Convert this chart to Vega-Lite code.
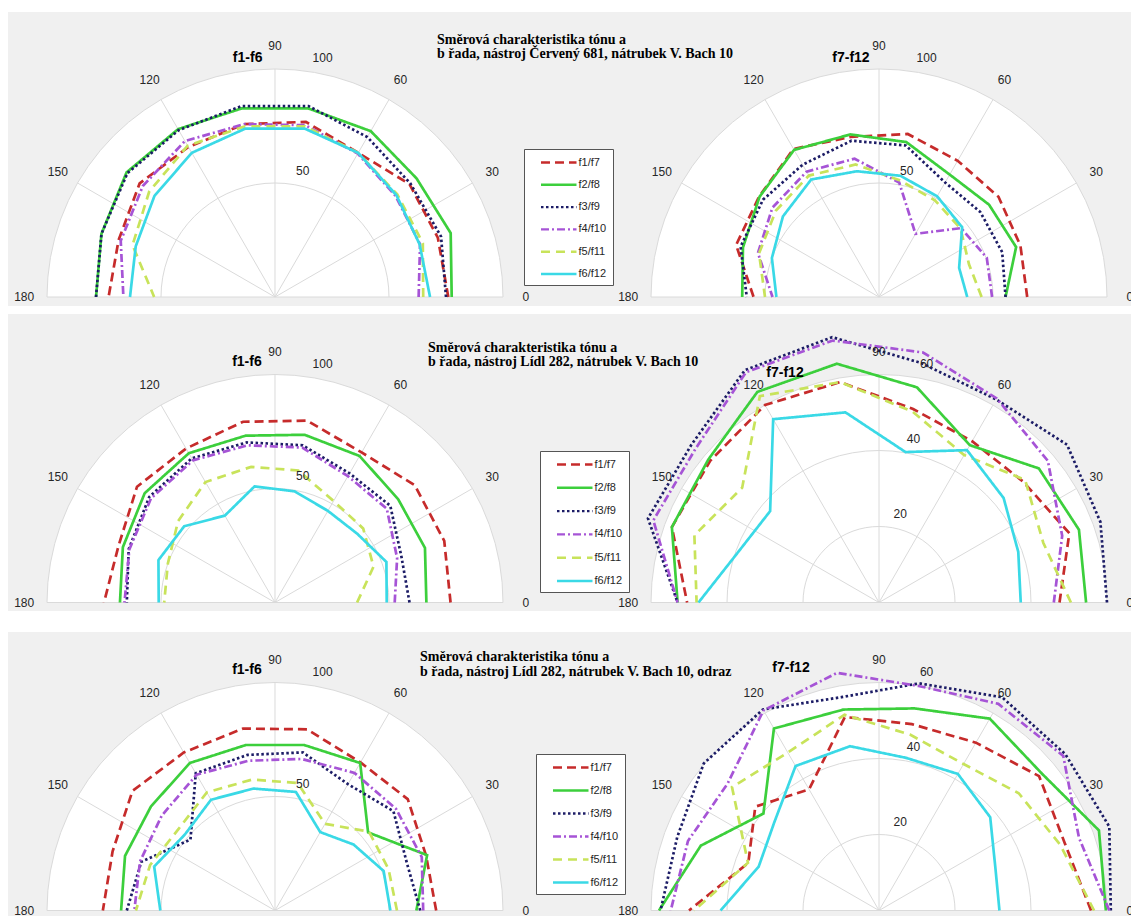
{
  "$schema": "https://vega.github.io/schema/vega-lite/v6.json",
  "background": "white",
  "padding": {"left": 8, "top": 12, "right": 0, "bottom": 0},
  "config": {
    "view": {"stroke": null, "fill": "#f0f0f0"},
    "font": "Liberation Sans"
  },
  "datasets": {
    "ang": [
      {"a": 0}, {"a": 5}, {"a": 10}, {"a": 15}, {"a": 20}, {"a": 25}, {"a": 30}, {"a": 35}, {"a": 40}, {"a": 45},
      {"a": 50}, {"a": 55}, {"a": 60}, {"a": 65}, {"a": 70}, {"a": 75}, {"a": 80}, {"a": 85}, {"a": 90}, {"a": 95},
      {"a": 100}, {"a": 105}, {"a": 110}, {"a": 115}, {"a": 120}, {"a": 125}, {"a": 130}, {"a": 135}, {"a": 140}, {"a": 145},
      {"a": 150}, {"a": 155}, {"a": 160}, {"a": 165}, {"a": 170}, {"a": 175}, {"a": 180}
    ],
    "spk": [{"a": 0}, {"a": 30}, {"a": 60}, {"a": 90}, {"a": 120}, {"a": 150}, {"a": 180}],
    "m": [
      {"p":"1L","s":"f1/f7","a":0,"v":76},{"p":"1L","s":"f1/f7","a":20,"v":76},{"p":"1L","s":"f1/f7","a":40,"v":77},{"p":"1L","s":"f1/f7","a":60,"v":73},{"p":"1L","s":"f1/f7","a":80,"v":78},{"p":"1L","s":"f1/f7","a":100,"v":77},{"p":"1L","s":"f1/f7","a":120,"v":76},{"p":"1L","s":"f1/f7","a":140,"v":77.5},{"p":"1L","s":"f1/f7","a":160,"v":73},{"p":"1L","s":"f1/f7","a":180,"v":73},
      {"p":"1L","s":"f2/f8","a":0,"v":77.5},{"p":"1L","s":"f2/f8","a":20,"v":82},{"p":"1L","s":"f2/f8","a":40,"v":81},{"p":"1L","s":"f2/f8","a":60,"v":84},{"p":"1L","s":"f2/f8","a":80,"v":84},{"p":"1L","s":"f2/f8","a":100,"v":84},{"p":"1L","s":"f2/f8","a":120,"v":85},{"p":"1L","s":"f2/f8","a":140,"v":85},{"p":"1L","s":"f2/f8","a":160,"v":81},{"p":"1L","s":"f2/f8","a":180,"v":78.5},
      {"p":"1L","s":"f3/f9","a":0,"v":75},{"p":"1L","s":"f3/f9","a":20,"v":77.5},{"p":"1L","s":"f3/f9","a":40,"v":77.5},{"p":"1L","s":"f3/f9","a":60,"v":81},{"p":"1L","s":"f3/f9","a":80,"v":85},{"p":"1L","s":"f3/f9","a":100,"v":85},{"p":"1L","s":"f3/f9","a":120,"v":84.5},{"p":"1L","s":"f3/f9","a":140,"v":84.5},{"p":"1L","s":"f3/f9","a":160,"v":81},{"p":"1L","s":"f3/f9","a":180,"v":78.5},
      {"p":"1L","s":"f4/f10","a":0,"v":63},{"p":"1L","s":"f4/f10","a":20,"v":67.7},{"p":"1L","s":"f4/f10","a":40,"v":69},{"p":"1L","s":"f4/f10","a":60,"v":72.6},{"p":"1L","s":"f4/f10","a":80,"v":76.5},{"p":"1L","s":"f4/f10","a":100,"v":77},{"p":"1L","s":"f4/f10","a":120,"v":79},{"p":"1L","s":"f4/f10","a":140,"v":75.7},{"p":"1L","s":"f4/f10","a":160,"v":72},{"p":"1L","s":"f4/f10","a":180,"v":66.5},
      {"p":"1L","s":"f5/f11","a":0,"v":65},{"p":"1L","s":"f5/f11","a":20,"v":69},{"p":"1L","s":"f5/f11","a":40,"v":70},{"p":"1L","s":"f5/f11","a":60,"v":73},{"p":"1L","s":"f5/f11","a":80,"v":76},{"p":"1L","s":"f5/f11","a":100,"v":76},{"p":"1L","s":"f5/f11","a":120,"v":76.6},{"p":"1L","s":"f5/f11","a":140,"v":72},{"p":"1L","s":"f5/f11","a":160,"v":66.5},{"p":"1L","s":"f5/f11","a":180,"v":53},
      {"p":"1L","s":"f6/f12","a":0,"v":68},{"p":"1L","s":"f6/f12","a":20,"v":67.5},{"p":"1L","s":"f6/f12","a":40,"v":69.5},{"p":"1L","s":"f6/f12","a":60,"v":73},{"p":"1L","s":"f6/f12","a":80,"v":75},{"p":"1L","s":"f6/f12","a":100,"v":75},{"p":"1L","s":"f6/f12","a":120,"v":73},{"p":"1L","s":"f6/f12","a":140,"v":69},{"p":"1L","s":"f6/f12","a":160,"v":65},{"p":"1L","s":"f6/f12","a":180,"v":63.6},

      {"p":"1R","s":"f1/f7","a":0,"v":65},{"p":"1R","s":"f1/f7","a":20,"v":66},{"p":"1R","s":"f1/f7","a":40,"v":68.4},{"p":"1R","s":"f1/f7","a":60,"v":69},{"p":"1R","s":"f1/f7","a":80,"v":72.6},{"p":"1R","s":"f1/f7","a":100,"v":71.3},{"p":"1R","s":"f1/f7","a":120,"v":75},{"p":"1R","s":"f1/f7","a":140,"v":68.6},{"p":"1R","s":"f1/f7","a":160,"v":66.7},{"p":"1R","s":"f1/f7","a":180,"v":55},
      {"p":"1R","s":"f2/f8","a":0,"v":55.5},{"p":"1R","s":"f2/f8","a":20,"v":64},{"p":"1R","s":"f2/f8","a":40,"v":63},{"p":"1R","s":"f2/f8","a":60,"v":62},{"p":"1R","s":"f2/f8","a":80,"v":69},{"p":"1R","s":"f2/f8","a":100,"v":72.4},{"p":"1R","s":"f2/f8","a":120,"v":74.5},{"p":"1R","s":"f2/f8","a":140,"v":68.4},{"p":"1R","s":"f2/f8","a":160,"v":63.5},{"p":"1R","s":"f2/f8","a":180,"v":60},
      {"p":"1R","s":"f3/f9","a":0,"v":55.5},{"p":"1R","s":"f3/f9","a":20,"v":57.5},{"p":"1R","s":"f3/f9","a":40,"v":58},{"p":"1R","s":"f3/f9","a":60,"v":58},{"p":"1R","s":"f3/f9","a":80,"v":67.5},{"p":"1R","s":"f3/f9","a":100,"v":69.6},{"p":"1R","s":"f3/f9","a":120,"v":67},{"p":"1R","s":"f3/f9","a":140,"v":66.4},{"p":"1R","s":"f3/f9","a":160,"v":64.6},{"p":"1R","s":"f3/f9","a":180,"v":58},
      {"p":"1R","s":"f4/f10","a":0,"v":49.6},{"p":"1R","s":"f4/f10","a":20,"v":50.3},{"p":"1R","s":"f4/f10","a":40,"v":47},{"p":"1R","s":"f4/f10","a":60,"v":32},{"p":"1R","s":"f4/f10","a":80,"v":51},{"p":"1R","s":"f4/f10","a":100,"v":61.6},{"p":"1R","s":"f4/f10","a":120,"v":63.5},{"p":"1R","s":"f4/f10","a":140,"v":61},{"p":"1R","s":"f4/f10","a":160,"v":56.5},{"p":"1R","s":"f4/f10","a":180,"v":46.7},
      {"p":"1R","s":"f5/f11","a":0,"v":45},{"p":"1R","s":"f5/f11","a":20,"v":42},{"p":"1R","s":"f5/f11","a":40,"v":46.7},{"p":"1R","s":"f5/f11","a":60,"v":49},{"p":"1R","s":"f5/f11","a":80,"v":52},{"p":"1R","s":"f5/f11","a":100,"v":59},{"p":"1R","s":"f5/f11","a":120,"v":61.5},{"p":"1R","s":"f5/f11","a":140,"v":59},{"p":"1R","s":"f5/f11","a":160,"v":56},{"p":"1R","s":"f5/f11","a":180,"v":50},
      {"p":"1R","s":"f6/f12","a":0,"v":38.7},{"p":"1R","s":"f6/f12","a":20,"v":37.4},{"p":"1R","s":"f6/f12","a":40,"v":47.6},{"p":"1R","s":"f6/f12","a":60,"v":51},{"p":"1R","s":"f6/f12","a":80,"v":54},{"p":"1R","s":"f6/f12","a":100,"v":56},{"p":"1R","s":"f6/f12","a":120,"v":59.5},{"p":"1R","s":"f6/f12","a":140,"v":55},{"p":"1R","s":"f6/f12","a":160,"v":50},{"p":"1R","s":"f6/f12","a":180,"v":45},

      {"p":"2L","s":"f1/f7","a":0,"v":77},{"p":"2L","s":"f1/f7","a":20,"v":79},{"p":"2L","s":"f1/f7","a":40,"v":80},{"p":"2L","s":"f1/f7","a":60,"v":76},{"p":"2L","s":"f1/f7","a":80,"v":81},{"p":"2L","s":"f1/f7","a":100,"v":80.5},{"p":"2L","s":"f1/f7","a":120,"v":78},{"p":"2L","s":"f1/f7","a":140,"v":79},{"p":"2L","s":"f1/f7","a":160,"v":73},{"p":"2L","s":"f1/f7","a":180,"v":75},
      {"p":"2L","s":"f2/f8","a":0,"v":66.4},{"p":"2L","s":"f2/f8","a":20,"v":70},{"p":"2L","s":"f2/f8","a":40,"v":70.5},{"p":"2L","s":"f2/f8","a":60,"v":74.2},{"p":"2L","s":"f2/f8","a":80,"v":74.7},{"p":"2L","s":"f2/f8","a":100,"v":74.3},{"p":"2L","s":"f2/f8","a":120,"v":75.6},{"p":"2L","s":"f2/f8","a":140,"v":74.6},{"p":"2L","s":"f2/f8","a":160,"v":71},{"p":"2L","s":"f2/f8","a":180,"v":68},
      {"p":"2L","s":"f3/f9","a":0,"v":59},{"p":"2L","s":"f3/f9","a":20,"v":59},{"p":"2L","s":"f3/f9","a":40,"v":66},{"p":"2L","s":"f3/f9","a":60,"v":65.4},{"p":"2L","s":"f3/f9","a":80,"v":70},{"p":"2L","s":"f3/f9","a":100,"v":71.3},{"p":"2L","s":"f3/f9","a":120,"v":73},{"p":"2L","s":"f3/f9","a":140,"v":72},{"p":"2L","s":"f3/f9","a":160,"v":68.3},{"p":"2L","s":"f3/f9","a":180,"v":65},
      {"p":"2L","s":"f4/f10","a":0,"v":52.5},{"p":"2L","s":"f4/f10","a":20,"v":57},{"p":"2L","s":"f4/f10","a":40,"v":64},{"p":"2L","s":"f4/f10","a":60,"v":64},{"p":"2L","s":"f4/f10","a":80,"v":69},{"p":"2L","s":"f4/f10","a":100,"v":70},{"p":"2L","s":"f4/f10","a":120,"v":72},{"p":"2L","s":"f4/f10","a":140,"v":71},{"p":"2L","s":"f4/f10","a":160,"v":68},{"p":"2L","s":"f4/f10","a":180,"v":66},
      {"p":"2L","s":"f5/f11","a":0,"v":36},{"p":"2L","s":"f5/f11","a":20,"v":46},{"p":"2L","s":"f5/f11","a":40,"v":50.5},{"p":"2L","s":"f5/f11","a":60,"v":51.4},{"p":"2L","s":"f5/f11","a":80,"v":58.8},{"p":"2L","s":"f5/f11","a":100,"v":60.4},{"p":"2L","s":"f5/f11","a":120,"v":61},{"p":"2L","s":"f5/f11","a":140,"v":55.5},{"p":"2L","s":"f5/f11","a":160,"v":50},{"p":"2L","s":"f5/f11","a":180,"v":48.6},
      {"p":"2L","s":"f6/f12","a":0,"v":49},{"p":"2L","s":"f6/f12","a":20,"v":52},{"p":"2L","s":"f6/f12","a":40,"v":47},{"p":"2L","s":"f6/f12","a":60,"v":46.4},{"p":"2L","s":"f6/f12","a":80,"v":49.5},{"p":"2L","s":"f6/f12","a":100,"v":51.7},{"p":"2L","s":"f6/f12","a":120,"v":44},{"p":"2L","s":"f6/f12","a":140,"v":52},{"p":"2L","s":"f6/f12","a":160,"v":54.4},{"p":"2L","s":"f6/f12","a":180,"v":51},

      {"p":"2R","s":"f1/f7","a":0,"v":47.5},{"p":"2R","s":"f1/f7","a":20,"v":53.3},{"p":"2R","s":"f1/f7","a":40,"v":49.5},{"p":"2R","s":"f1/f7","a":60,"v":49},{"p":"2R","s":"f1/f7","a":80,"v":51.7},{"p":"2R","s":"f1/f7","a":100,"v":58.9},{"p":"2R","s":"f1/f7","a":120,"v":60},{"p":"2R","s":"f1/f7","a":140,"v":58},{"p":"2R","s":"f1/f7","a":160,"v":58},{"p":"2R","s":"f1/f7","a":180,"v":50.5},
      {"p":"2R","s":"f2/f8","a":0,"v":54.5},{"p":"2R","s":"f2/f8","a":20,"v":56},{"p":"2R","s":"f2/f8","a":40,"v":54.9},{"p":"2R","s":"f2/f8","a":60,"v":47.8},{"p":"2R","s":"f2/f8","a":80,"v":57.5},{"p":"2R","s":"f2/f8","a":100,"v":63.8},{"p":"2R","s":"f2/f8","a":120,"v":64},{"p":"2R","s":"f2/f8","a":140,"v":58.6},{"p":"2R","s":"f2/f8","a":160,"v":58},{"p":"2R","s":"f2/f8","a":180,"v":53},
      {"p":"2R","s":"f3/f9","a":0,"v":60},{"p":"2R","s":"f3/f9","a":20,"v":62},{"p":"2R","s":"f3/f9","a":40,"v":64.6},{"p":"2R","s":"f3/f9","a":60,"v":61.7},{"p":"2R","s":"f3/f9","a":80,"v":64},{"p":"2R","s":"f3/f9","a":100,"v":70.9},{"p":"2R","s":"f3/f9","a":120,"v":70.6},{"p":"2R","s":"f3/f9","a":140,"v":64.5},{"p":"2R","s":"f3/f9","a":160,"v":64.7},{"p":"2R","s":"f3/f9","a":180,"v":53},
      {"p":"2R","s":"f4/f10","a":0,"v":46},{"p":"2R","s":"f4/f10","a":20,"v":51.3},{"p":"2R","s":"f4/f10","a":40,"v":58},{"p":"2R","s":"f4/f10","a":60,"v":62},{"p":"2R","s":"f4/f10","a":80,"v":66.8},{"p":"2R","s":"f4/f10","a":100,"v":70},{"p":"2R","s":"f4/f10","a":120,"v":70},{"p":"2R","s":"f4/f10","a":140,"v":63},{"p":"2R","s":"f4/f10","a":160,"v":63.2},{"p":"2R","s":"f4/f10","a":180,"v":53},
      {"p":"2R","s":"f5/f11","a":0,"v":50.5},{"p":"2R","s":"f5/f11","a":20,"v":46},{"p":"2R","s":"f5/f11","a":40,"v":50.2},{"p":"2R","s":"f5/f11","a":60,"v":44.8},{"p":"2R","s":"f5/f11","a":80,"v":51},{"p":"2R","s":"f5/f11","a":100,"v":58.9},{"p":"2R","s":"f5/f11","a":120,"v":62.7},{"p":"2R","s":"f5/f11","a":140,"v":47},{"p":"2R","s":"f5/f11","a":160,"v":51.7},{"p":"2R","s":"f5/f11","a":180,"v":48},
      {"p":"2R","s":"f6/f12","a":0,"v":37.3},{"p":"2R","s":"f6/f12","a":20,"v":39},{"p":"2R","s":"f6/f12","a":40,"v":42.8},{"p":"2R","s":"f6/f12","a":60,"v":46.3},{"p":"2R","s":"f6/f12","a":80,"v":40.2},{"p":"2R","s":"f6/f12","a":100,"v":50.8},{"p":"2R","s":"f6/f12","a":120,"v":55.7},{"p":"2R","s":"f6/f12","a":140,"v":37.4},{"p":"2R","s":"f6/f12","a":160,"v":39.3},{"p":"2R","s":"f6/f12","a":180,"v":47.5},

      {"p":"3L","s":"f1/f7","a":0,"v":70.7},{"p":"3L","s":"f1/f7","a":20,"v":70.5},{"p":"3L","s":"f1/f7","a":40,"v":76},{"p":"3L","s":"f1/f7","a":60,"v":75},{"p":"3L","s":"f1/f7","a":80,"v":80.7},{"p":"3L","s":"f1/f7","a":100,"v":81},{"p":"3L","s":"f1/f7","a":120,"v":80},{"p":"3L","s":"f1/f7","a":140,"v":81.6},{"p":"3L","s":"f1/f7","a":160,"v":75.8},{"p":"3L","s":"f1/f7","a":180,"v":75.5},
      {"p":"3L","s":"f2/f8","a":0,"v":62},{"p":"3L","s":"f2/f8","a":20,"v":71},{"p":"3L","s":"f2/f8","a":40,"v":53.3},{"p":"3L","s":"f2/f8","a":60,"v":74.7},{"p":"3L","s":"f2/f8","a":80,"v":73.7},{"p":"3L","s":"f2/f8","a":100,"v":73.7},{"p":"3L","s":"f2/f8","a":120,"v":74.7},{"p":"3L","s":"f2/f8","a":140,"v":71},{"p":"3L","s":"f2/f8","a":160,"v":70},{"p":"3L","s":"f2/f8","a":180,"v":67.5},
      {"p":"3L","s":"f3/f9","a":0,"v":63.7},{"p":"3L","s":"f3/f9","a":20,"v":61.5},{"p":"3L","s":"f3/f9","a":40,"v":67.8},{"p":"3L","s":"f3/f9","a":60,"v":64},{"p":"3L","s":"f3/f9","a":80,"v":70.4},{"p":"3L","s":"f3/f9","a":100,"v":69.3},{"p":"3L","s":"f3/f9","a":120,"v":69.5},{"p":"3L","s":"f3/f9","a":140,"v":48.4},{"p":"3L","s":"f3/f9","a":160,"v":62.4},{"p":"3L","s":"f3/f9","a":180,"v":65},
      {"p":"3L","s":"f4/f10","a":0,"v":65},{"p":"3L","s":"f4/f10","a":20,"v":68.5},{"p":"3L","s":"f4/f10","a":40,"v":69.3},{"p":"3L","s":"f4/f10","a":60,"v":69.7},{"p":"3L","s":"f4/f10","a":80,"v":67.5},{"p":"3L","s":"f4/f10","a":100,"v":66.7},{"p":"3L","s":"f4/f10","a":120,"v":68.8},{"p":"3L","s":"f4/f10","a":140,"v":64.8},{"p":"3L","s":"f4/f10","a":160,"v":63},{"p":"3L","s":"f4/f10","a":180,"v":61.7},
      {"p":"3L","s":"f5/f11","a":0,"v":53.5},{"p":"3L","s":"f5/f11","a":20,"v":53},{"p":"3L","s":"f5/f11","a":40,"v":53.8},{"p":"3L","s":"f5/f11","a":60,"v":43.9},{"p":"3L","s":"f5/f11","a":80,"v":56.8},{"p":"3L","s":"f5/f11","a":100,"v":58.3},{"p":"3L","s":"f5/f11","a":120,"v":59.8},{"p":"3L","s":"f5/f11","a":140,"v":55.4},{"p":"3L","s":"f5/f11","a":160,"v":58.3},{"p":"3L","s":"f5/f11","a":180,"v":61},
      {"p":"3L","s":"f6/f12","a":0,"v":50.6},{"p":"3L","s":"f6/f12","a":20,"v":50.7},{"p":"3L","s":"f6/f12","a":40,"v":45},{"p":"3L","s":"f6/f12","a":60,"v":39.7},{"p":"3L","s":"f6/f12","a":80,"v":52.8},{"p":"3L","s":"f6/f12","a":100,"v":54.3},{"p":"3L","s":"f6/f12","a":120,"v":56.1},{"p":"3L","s":"f6/f12","a":140,"v":51.7},{"p":"3L","s":"f6/f12","a":160,"v":56.4},{"p":"3L","s":"f6/f12","a":180,"v":50.3},

      {"p":"3R","s":"f1/f7","a":0,"v":55.8},{"p":"3R","s":"f1/f7","a":20,"v":52},{"p":"3R","s":"f1/f7","a":40,"v":55},{"p":"3R","s":"f1/f7","a":60,"v":51},{"p":"3R","s":"f1/f7","a":80,"v":49.8},{"p":"3R","s":"f1/f7","a":100,"v":51.7},{"p":"3R","s":"f1/f7","a":120,"v":36.8},{"p":"3R","s":"f1/f7","a":140,"v":42.5},{"p":"3R","s":"f1/f7","a":160,"v":36.6},{"p":"3R","s":"f1/f7","a":180,"v":50},
      {"p":"3R","s":"f2/f8","a":0,"v":59.7},{"p":"3R","s":"f2/f8","a":20,"v":61.6},{"p":"3R","s":"f2/f8","a":40,"v":56},{"p":"3R","s":"f2/f8","a":60,"v":58.3},{"p":"3R","s":"f2/f8","a":80,"v":54},{"p":"3R","s":"f2/f8","a":100,"v":53.7},{"p":"3R","s":"f2/f8","a":120,"v":55.3},{"p":"3R","s":"f2/f8","a":140,"v":39.7},{"p":"3R","s":"f2/f8","a":160,"v":49.9},{"p":"3R","s":"f2/f8","a":180,"v":57.9},
      {"p":"3R","s":"f3/f9","a":0,"v":61},{"p":"3R","s":"f3/f9","a":20,"v":64.5},{"p":"3R","s":"f3/f9","a":40,"v":64},{"p":"3R","s":"f3/f9","a":60,"v":64.8},{"p":"3R","s":"f3/f9","a":80,"v":60.7},{"p":"3R","s":"f3/f9","a":100,"v":57},{"p":"3R","s":"f3/f9","a":120,"v":61.1},{"p":"3R","s":"f3/f9","a":140,"v":60.2},{"p":"3R","s":"f3/f9","a":160,"v":56.5},{"p":"3R","s":"f3/f9","a":180,"v":57.5},
      {"p":"3R","s":"f4/f10","a":0,"v":60.6},{"p":"3R","s":"f4/f10","a":20,"v":56},{"p":"3R","s":"f4/f10","a":40,"v":63.3},{"p":"3R","s":"f4/f10","a":60,"v":62.8},{"p":"3R","s":"f4/f10","a":80,"v":60},{"p":"3R","s":"f4/f10","a":100,"v":63.5},{"p":"3R","s":"f4/f10","a":120,"v":60.8},{"p":"3R","s":"f4/f10","a":140,"v":52},{"p":"3R","s":"f4/f10","a":160,"v":53.5},{"p":"3R","s":"f4/f10","a":180,"v":54.8},
      {"p":"3R","s":"f5/f11","a":0,"v":56.6},{"p":"3R","s":"f5/f11","a":20,"v":50.7},{"p":"3R","s":"f5/f11","a":40,"v":48},{"p":"3R","s":"f5/f11","a":60,"v":44.5},{"p":"3R","s":"f5/f11","a":80,"v":47},{"p":"3R","s":"f5/f11","a":100,"v":52.3},{"p":"3R","s":"f5/f11","a":120,"v":48},{"p":"3R","s":"f5/f11","a":140,"v":50.5},{"p":"3R","s":"f5/f11","a":160,"v":36.7},{"p":"3R","s":"f5/f11","a":180,"v":48.7},
      {"p":"3R","s":"f6/f12","a":0,"v":31.7},{"p":"3R","s":"f6/f12","a":20,"v":32.6},{"p":"3R","s":"f6/f12","a":40,"v":38.2},{"p":"3R","s":"f6/f12","a":60,"v":41.5},{"p":"3R","s":"f6/f12","a":80,"v":40.8},{"p":"3R","s":"f6/f12","a":100,"v":43.9},{"p":"3R","s":"f6/f12","a":120,"v":43.9},{"p":"3R","s":"f6/f12","a":140,"v":36},{"p":"3R","s":"f6/f12","a":160,"v":33.7},{"p":"3R","s":"f6/f12","a":180,"v":41.7}
    ]
  },
  "spacing": 21,
  "resolve": {"scale": {"color": "independent", "strokeDash": "independent"}},
  "vconcat": [
    {
      "spacing": 8,
      "resolve": {"scale": {"color": "independent", "strokeDash": "independent"}},
      "vconcat": [
        {
          "spacing": 0,
          "bounds": "flush",
          "resolve": {"scale": {"color": "independent", "strokeDash": "independent"}},
          "hconcat": [
            {
              "width": 568, "height": 294,
              "encoding": {
                "x": {"field": "x", "type": "quantitative", "scale": {"domain": [-1.17105, 1.32018], "nice": false, "zero": false}, "axis": null},
                "y": {"field": "y", "type": "quantitative", "scale": {"domain": [-0.03947, 1.25], "nice": false, "zero": false}, "axis": null}
              },
              "layer": [
                {"data": {"name": "ang"}, "transform": [{"calculate": "cos(datum.a*PI/180)", "as": "x"}, {"calculate": "sin(datum.a*PI/180)", "as": "y"}], "mark": {"type": "area", "color": "white"}, "encoding": {"y2": {"datum": 0}}},
                {"data": {"name": "ang"}, "transform": [{"calculate": "[0.5, 1]", "as": "k"}, {"flatten": ["k"]}, {"calculate": "datum.k*cos(datum.a*PI/180)", "as": "x"}, {"calculate": "datum.k*sin(datum.a*PI/180)", "as": "y"}], "mark": {"type": "line", "color": "#dadada", "strokeWidth": 1}, "encoding": {"detail": {"field": "k", "type": "nominal"}, "order": {"field": "a", "type": "quantitative"}}},
                {"data": {"name": "spk"}, "transform": [{"calculate": "0", "as": "x"}, {"calculate": "0", "as": "y"}, {"calculate": "cos(datum.a*PI/180)", "as": "x2"}, {"calculate": "sin(datum.a*PI/180)", "as": "y2"}], "mark": {"type": "rule", "color": "#dadada", "strokeWidth": 1}, "encoding": {"x2": {"field": "x2"}, "y2": {"field": "y2"}}},
                {"data": {"name": "m"}, "transform": [{"filter": "datum.p == '1L'"}, {"calculate": "datum.v/100*cos(datum.a*PI/180)", "as": "x"}, {"calculate": "datum.v/100*sin(datum.a*PI/180)", "as": "y"}],
                 "mark": {"type": "line", "strokeWidth": 2.7},
                 "encoding": {
                   "color": {"field": "s", "type": "nominal", "scale": {"domain": ["f1/f7", "f2/f8", "f3/f9", "f4/f10", "f5/f11", "f6/f12"], "range": ["#c62b2b", "#3ccf3c", "#1c1c66", "#a654d6", "#c8e35a", "#3ad9e6"]}, "legend": null},
                   "strokeDash": {"field": "s", "type": "nominal", "scale": {"domain": ["f1/f7", "f2/f8", "f3/f9", "f4/f10", "f5/f11", "f6/f12"], "range": [[9, 5], [1, 0], [2.5, 2.5], [8, 3, 2, 3], [9, 6], [1, 0]]}, "legend": null},
                   "order": {"field": "a", "type": "quantitative"}
                 }},
                {"data": {"name": "spk"}, "transform": [{"calculate": "1.1*cos(datum.a*PI/180)", "as": "x"}, {"calculate": "1.1*sin(datum.a*PI/180)", "as": "y"}], "mark": {"type": "text", "fontSize": 12, "color": "#262626"}, "encoding": {"text": {"field": "a", "type": "nominal"}}},
                {"data": {"values": [{"v": 50}, {"v": 100}]}, "transform": [{"calculate": "datum.v/100*cos(80*PI/180)", "as": "x"}, {"calculate": "datum.v/100*sin(80*PI/180)", "as": "y"}], "mark": {"type": "text", "fontSize": 12, "color": "#262626", "dx": 8, "dy": -14}, "encoding": {"text": {"field": "v", "type": "nominal"}}},
                {"data": {"values": [{"t": "f1-f6"}]}, "transform": [{"calculate": "-0.12", "as": "x"}, {"calculate": "1.05", "as": "y"}], "mark": {"type": "text", "fontSize": 14, "fontWeight": "bold", "color": "#000000"}, "encoding": {"text": {"field": "t", "type": "nominal"}}}
              ]
            },
            {
              "width": 555, "height": 294,
              "encoding": {
                "x": {"field": "x", "type": "quantitative", "scale": {"domain": [-1.32895, 1.10526], "nice": false, "zero": false}, "axis": null},
                "y": {"field": "y", "type": "quantitative", "scale": {"domain": [-0.03947, 1.25], "nice": false, "zero": false}, "axis": null}
              },
              "layer": [
                {"data": {"name": "ang"}, "transform": [{"calculate": "cos(datum.a*PI/180)", "as": "x"}, {"calculate": "sin(datum.a*PI/180)", "as": "y"}], "mark": {"type": "area", "color": "white"}, "encoding": {"y2": {"datum": 0}}},
                {"data": {"name": "ang"}, "transform": [{"calculate": "[0.5, 1]", "as": "k"}, {"flatten": ["k"]}, {"calculate": "datum.k*cos(datum.a*PI/180)", "as": "x"}, {"calculate": "datum.k*sin(datum.a*PI/180)", "as": "y"}], "mark": {"type": "line", "color": "#dadada", "strokeWidth": 1}, "encoding": {"detail": {"field": "k", "type": "nominal"}, "order": {"field": "a", "type": "quantitative"}}},
                {"data": {"name": "spk"}, "transform": [{"calculate": "0", "as": "x"}, {"calculate": "0", "as": "y"}, {"calculate": "cos(datum.a*PI/180)", "as": "x2"}, {"calculate": "sin(datum.a*PI/180)", "as": "y2"}], "mark": {"type": "rule", "color": "#dadada", "strokeWidth": 1}, "encoding": {"x2": {"field": "x2"}, "y2": {"field": "y2"}}},
                {"data": {"name": "m"}, "transform": [{"filter": "datum.p == '1R'"}, {"calculate": "datum.v/100*cos(datum.a*PI/180)", "as": "x"}, {"calculate": "datum.v/100*sin(datum.a*PI/180)", "as": "y"}],
                 "mark": {"type": "line", "strokeWidth": 2.7},
                 "encoding": {
                   "color": {"field": "s", "type": "nominal", "scale": {"domain": ["f1/f7", "f2/f8", "f3/f9", "f4/f10", "f5/f11", "f6/f12"], "range": ["#c62b2b", "#3ccf3c", "#1c1c66", "#a654d6", "#c8e35a", "#3ad9e6"]},
                     "legend": {"orient": "none", "legendX": -52, "legendY": 137, "title": null, "symbolType": "M0.583,0H6.5", "symbolSize": 144, "symbolStrokeWidth": 2.4, "labelOffset": 33.5, "labelFontSize": 11, "labelColor": "#262626", "labelFont": "Liberation Sans", "rowPadding": 9.3, "padding": 6, "strokeColor": "#555555", "fillColor": "white", "labelExpr": "datum.label + '\u00a0\u00a0\u00a0\u00a0\u00a0\u00a0'"}},
                   "strokeDash": {"field": "s", "type": "nominal", "scale": {"domain": ["f1/f7", "f2/f8", "f3/f9", "f4/f10", "f5/f11", "f6/f12"], "range": [[9, 5], [1, 0], [2.5, 2.5], [8, 3, 2, 3], [9, 6], [1, 0]]}},
                   "order": {"field": "a", "type": "quantitative"}
                 }},
                {"data": {"name": "spk"}, "transform": [{"calculate": "1.1*cos(datum.a*PI/180)", "as": "x"}, {"calculate": "1.1*sin(datum.a*PI/180)", "as": "y"}], "mark": {"type": "text", "fontSize": 12, "color": "#262626"}, "encoding": {"text": {"field": "a", "type": "nominal"}}},
                {"data": {"values": [{"v": 50}, {"v": 100}]}, "transform": [{"calculate": "datum.v/100*cos(80*PI/180)", "as": "x"}, {"calculate": "datum.v/100*sin(80*PI/180)", "as": "y"}], "mark": {"type": "text", "fontSize": 12, "color": "#262626", "dx": 8, "dy": -14}, "encoding": {"text": {"field": "v", "type": "nominal"}}},
                {"data": {"values": [{"t": "f7-f12"}]}, "transform": [{"calculate": "-0.123", "as": "x"}, {"calculate": "1.048", "as": "y"}], "mark": {"type": "text", "fontSize": 14, "fontWeight": "bold", "color": "#000000"}, "encoding": {"text": {"field": "t", "type": "nominal"}}},
                {"data": {"values": [{"t": ["Směrová charakteristika tónu a", "b řada, nástroj Červený 681, nátrubek V. Bach 10"]}]}, "transform": [{"calculate": "-1.9386", "as": "x"}, {"calculate": "1.1272", "as": "y"}], "mark": {"type": "text", "align": "left", "baseline": "middle", "font": "Liberation Serif", "fontSize": 14, "fontWeight": "bold", "lineHeight": 14, "color": "#000000"}, "encoding": {"text": {"field": "t"}}}
              ]
            }
          ]
        },
        {
          "spacing": 0,
          "bounds": "flush",
          "resolve": {"scale": {"color": "independent", "strokeDash": "independent"}},
          "hconcat": [
            {
              "width": 568, "height": 297,
              "encoding": {
                "x": {"field": "x", "type": "quantitative", "scale": {"domain": [-1.17105, 1.32018], "nice": false, "zero": false}, "axis": null},
                "y": {"field": "y", "type": "quantitative", "scale": {"domain": [-0.03728, 1.26535], "nice": false, "zero": false}, "axis": null}
              },
              "layer": [
                {"data": {"name": "ang"}, "transform": [{"calculate": "cos(datum.a*PI/180)", "as": "x"}, {"calculate": "sin(datum.a*PI/180)", "as": "y"}], "mark": {"type": "area", "color": "white"}, "encoding": {"y2": {"datum": 0}}},
                {"data": {"name": "ang"}, "transform": [{"calculate": "[0.5, 1]", "as": "k"}, {"flatten": ["k"]}, {"calculate": "datum.k*cos(datum.a*PI/180)", "as": "x"}, {"calculate": "datum.k*sin(datum.a*PI/180)", "as": "y"}], "mark": {"type": "line", "color": "#dadada", "strokeWidth": 1}, "encoding": {"detail": {"field": "k", "type": "nominal"}, "order": {"field": "a", "type": "quantitative"}}},
                {"data": {"name": "spk"}, "transform": [{"calculate": "0", "as": "x"}, {"calculate": "0", "as": "y"}, {"calculate": "cos(datum.a*PI/180)", "as": "x2"}, {"calculate": "sin(datum.a*PI/180)", "as": "y2"}], "mark": {"type": "rule", "color": "#dadada", "strokeWidth": 1}, "encoding": {"x2": {"field": "x2"}, "y2": {"field": "y2"}}},
                {"data": {"name": "m"}, "transform": [{"filter": "datum.p == '2L'"}, {"calculate": "datum.v/100*cos(datum.a*PI/180)", "as": "x"}, {"calculate": "datum.v/100*sin(datum.a*PI/180)", "as": "y"}],
                 "mark": {"type": "line", "strokeWidth": 2.7},
                 "encoding": {
                   "color": {"field": "s", "type": "nominal", "scale": {"domain": ["f1/f7", "f2/f8", "f3/f9", "f4/f10", "f5/f11", "f6/f12"], "range": ["#c62b2b", "#3ccf3c", "#1c1c66", "#a654d6", "#c8e35a", "#3ad9e6"]}, "legend": null},
                   "strokeDash": {"field": "s", "type": "nominal", "scale": {"domain": ["f1/f7", "f2/f8", "f3/f9", "f4/f10", "f5/f11", "f6/f12"], "range": [[9, 5], [1, 0], [2.5, 2.5], [8, 3, 2, 3], [9, 6], [1, 0]]}, "legend": null},
                   "order": {"field": "a", "type": "quantitative"}
                 }},
                {"data": {"name": "spk"}, "transform": [{"calculate": "1.1*cos(datum.a*PI/180)", "as": "x"}, {"calculate": "1.1*sin(datum.a*PI/180)", "as": "y"}], "mark": {"type": "text", "fontSize": 12, "color": "#262626"}, "encoding": {"text": {"field": "a", "type": "nominal"}}},
                {"data": {"values": [{"v": 50}, {"v": 100}]}, "transform": [{"calculate": "datum.v/100*cos(80*PI/180)", "as": "x"}, {"calculate": "datum.v/100*sin(80*PI/180)", "as": "y"}], "mark": {"type": "text", "fontSize": 12, "color": "#262626", "dx": 8, "dy": -14}, "encoding": {"text": {"field": "v", "type": "nominal"}}},
                {"data": {"values": [{"t": "f1-f6"}]}, "transform": [{"calculate": "-0.123", "as": "x"}, {"calculate": "1.055", "as": "y"}], "mark": {"type": "text", "fontSize": 14, "fontWeight": "bold", "color": "#000000"}, "encoding": {"text": {"field": "t", "type": "nominal"}}}
              ]
            },
            {
              "width": 555, "height": 297,
              "encoding": {
                "x": {"field": "x", "type": "quantitative", "scale": {"domain": [-1.32895, 1.10526], "nice": false, "zero": false}, "axis": null},
                "y": {"field": "y", "type": "quantitative", "scale": {"domain": [-0.03728, 1.26535], "nice": false, "zero": false}, "axis": null}
              },
              "layer": [
                {"data": {"name": "ang"}, "transform": [{"calculate": "cos(datum.a*PI/180)", "as": "x"}, {"calculate": "sin(datum.a*PI/180)", "as": "y"}], "mark": {"type": "area", "color": "white"}, "encoding": {"y2": {"datum": 0}}},
                {"data": {"name": "ang"}, "transform": [{"calculate": "[1/3, 2/3, 1]", "as": "k"}, {"flatten": ["k"]}, {"calculate": "datum.k*cos(datum.a*PI/180)", "as": "x"}, {"calculate": "datum.k*sin(datum.a*PI/180)", "as": "y"}], "mark": {"type": "line", "color": "#dadada", "strokeWidth": 1}, "encoding": {"detail": {"field": "k", "type": "nominal"}, "order": {"field": "a", "type": "quantitative"}}},
                {"data": {"name": "spk"}, "transform": [{"calculate": "0", "as": "x"}, {"calculate": "0", "as": "y"}, {"calculate": "cos(datum.a*PI/180)", "as": "x2"}, {"calculate": "sin(datum.a*PI/180)", "as": "y2"}], "mark": {"type": "rule", "color": "#dadada", "strokeWidth": 1}, "encoding": {"x2": {"field": "x2"}, "y2": {"field": "y2"}}},
                {"data": {"name": "m"}, "transform": [{"filter": "datum.p == '2R'"}, {"calculate": "datum.v/60*cos(datum.a*PI/180)", "as": "x"}, {"calculate": "datum.v/60*sin(datum.a*PI/180)", "as": "y"}],
                 "mark": {"type": "line", "strokeWidth": 2.7},
                 "encoding": {
                   "color": {"field": "s", "type": "nominal", "scale": {"domain": ["f1/f7", "f2/f8", "f3/f9", "f4/f10", "f5/f11", "f6/f12"], "range": ["#c62b2b", "#3ccf3c", "#1c1c66", "#a654d6", "#c8e35a", "#3ad9e6"]},
                     "legend": {"orient": "none", "legendX": -36, "legendY": 137, "title": null, "symbolType": "M0.583,0H6.5", "symbolSize": 144, "symbolStrokeWidth": 2.4, "labelOffset": 33.5, "labelFontSize": 11, "labelColor": "#262626", "labelFont": "Liberation Sans", "rowPadding": 10.3, "padding": 6, "strokeColor": "#555555", "fillColor": "white", "labelExpr": "datum.label + '\u00a0\u00a0\u00a0\u00a0\u00a0'"}},
                   "strokeDash": {"field": "s", "type": "nominal", "scale": {"domain": ["f1/f7", "f2/f8", "f3/f9", "f4/f10", "f5/f11", "f6/f12"], "range": [[9, 5], [1, 0], [2.5, 2.5], [8, 3, 2, 3], [9, 6], [1, 0]]}},
                   "order": {"field": "a", "type": "quantitative"}
                 }},
                {"data": {"name": "spk"}, "transform": [{"calculate": "1.1*cos(datum.a*PI/180)", "as": "x"}, {"calculate": "1.1*sin(datum.a*PI/180)", "as": "y"}], "mark": {"type": "text", "fontSize": 12, "color": "#262626"}, "encoding": {"text": {"field": "a", "type": "nominal"}}},
                {"data": {"values": [{"v": 20}, {"v": 40}, {"v": 60}]}, "transform": [{"calculate": "datum.v/60*cos(80*PI/180)", "as": "x"}, {"calculate": "datum.v/60*sin(80*PI/180)", "as": "y"}], "mark": {"type": "text", "fontSize": 12, "color": "#262626", "dx": 8, "dy": -14}, "encoding": {"text": {"field": "v", "type": "nominal"}}},
                {"data": {"values": [{"t": "f7-f12"}]}, "transform": [{"calculate": "-0.4123", "as": "x"}, {"calculate": "1.0066", "as": "y"}], "mark": {"type": "text", "fontSize": 14, "fontWeight": "bold", "color": "#000000"}, "encoding": {"text": {"field": "t", "type": "nominal"}}},
                {"data": {"values": [{"t": ["Směrová charakteristika tónu a", "b řada, nástroj Lídl 282, nátrubek V. Bach 10"]}]}, "transform": [{"calculate": "-1.978", "as": "x"}, {"calculate": "1.1162", "as": "y"}], "mark": {"type": "text", "align": "left", "baseline": "middle", "font": "Liberation Serif", "fontSize": 14, "fontWeight": "bold", "lineHeight": 14, "color": "#000000"}, "encoding": {"text": {"field": "t"}}}
              ]
            }
          ]
        }
      ]
    },
    {
      "spacing": 0,
      "bounds": "flush",
      "resolve": {"scale": {"color": "independent", "strokeDash": "independent"}},
      "hconcat": [
        {
          "width": 568, "height": 284,
          "encoding": {
            "x": {"field": "x", "type": "quantitative", "scale": {"domain": [-1.17105, 1.32018], "nice": false, "zero": false}, "axis": null},
            "y": {"field": "y", "type": "quantitative", "scale": {"domain": [-0.02412, 1.22149], "nice": false, "zero": false}, "axis": null}
          },
          "layer": [
            {"data": {"name": "ang"}, "transform": [{"calculate": "cos(datum.a*PI/180)", "as": "x"}, {"calculate": "sin(datum.a*PI/180)", "as": "y"}], "mark": {"type": "area", "color": "white"}, "encoding": {"y2": {"datum": 0}}},
            {"data": {"name": "ang"}, "transform": [{"calculate": "[0.5, 1]", "as": "k"}, {"flatten": ["k"]}, {"calculate": "datum.k*cos(datum.a*PI/180)", "as": "x"}, {"calculate": "datum.k*sin(datum.a*PI/180)", "as": "y"}], "mark": {"type": "line", "color": "#dadada", "strokeWidth": 1}, "encoding": {"detail": {"field": "k", "type": "nominal"}, "order": {"field": "a", "type": "quantitative"}}},
            {"data": {"name": "spk"}, "transform": [{"calculate": "0", "as": "x"}, {"calculate": "0", "as": "y"}, {"calculate": "cos(datum.a*PI/180)", "as": "x2"}, {"calculate": "sin(datum.a*PI/180)", "as": "y2"}], "mark": {"type": "rule", "color": "#dadada", "strokeWidth": 1}, "encoding": {"x2": {"field": "x2"}, "y2": {"field": "y2"}}},
            {"data": {"name": "m"}, "transform": [{"filter": "datum.p == '3L'"}, {"calculate": "datum.v/100*cos(datum.a*PI/180)", "as": "x"}, {"calculate": "datum.v/100*sin(datum.a*PI/180)", "as": "y"}],
             "mark": {"type": "line", "strokeWidth": 2.7},
             "encoding": {
               "color": {"field": "s", "type": "nominal", "scale": {"domain": ["f1/f7", "f2/f8", "f3/f9", "f4/f10", "f5/f11", "f6/f12"], "range": ["#c62b2b", "#3ccf3c", "#1c1c66", "#a654d6", "#c8e35a", "#3ad9e6"]}, "legend": null},
               "strokeDash": {"field": "s", "type": "nominal", "scale": {"domain": ["f1/f7", "f2/f8", "f3/f9", "f4/f10", "f5/f11", "f6/f12"], "range": [[9, 5], [1, 0], [2.5, 2.5], [8, 3, 2, 3], [9, 6], [1, 0]]}, "legend": null},
               "order": {"field": "a", "type": "quantitative"}
             }},
            {"data": {"name": "spk"}, "transform": [{"calculate": "1.1*cos(datum.a*PI/180)", "as": "x"}, {"calculate": "1.1*sin(datum.a*PI/180)", "as": "y"}], "mark": {"type": "text", "fontSize": 12, "color": "#262626"}, "encoding": {"text": {"field": "a", "type": "nominal"}}},
            {"data": {"values": [{"v": 50}, {"v": 100}]}, "transform": [{"calculate": "datum.v/100*cos(80*PI/180)", "as": "x"}, {"calculate": "datum.v/100*sin(80*PI/180)", "as": "y"}], "mark": {"type": "text", "fontSize": 12, "color": "#262626", "dx": 8, "dy": -14}, "encoding": {"text": {"field": "v", "type": "nominal"}}},
            {"data": {"values": [{"t": "f1-f6"}]}, "transform": [{"calculate": "-0.123", "as": "x"}, {"calculate": "1.055", "as": "y"}], "mark": {"type": "text", "fontSize": 14, "fontWeight": "bold", "color": "#000000"}, "encoding": {"text": {"field": "t", "type": "nominal"}}}
          ]
        },
        {
          "width": 555, "height": 284,
          "encoding": {
            "x": {"field": "x", "type": "quantitative", "scale": {"domain": [-1.32895, 1.10526], "nice": false, "zero": false}, "axis": null},
            "y": {"field": "y", "type": "quantitative", "scale": {"domain": [-0.02412, 1.22149], "nice": false, "zero": false}, "axis": null}
          },
          "layer": [
            {"data": {"name": "ang"}, "transform": [{"calculate": "cos(datum.a*PI/180)", "as": "x"}, {"calculate": "sin(datum.a*PI/180)", "as": "y"}], "mark": {"type": "area", "color": "white"}, "encoding": {"y2": {"datum": 0}}},
            {"data": {"name": "ang"}, "transform": [{"calculate": "[1/3, 2/3, 1]", "as": "k"}, {"flatten": ["k"]}, {"calculate": "datum.k*cos(datum.a*PI/180)", "as": "x"}, {"calculate": "datum.k*sin(datum.a*PI/180)", "as": "y"}], "mark": {"type": "line", "color": "#dadada", "strokeWidth": 1}, "encoding": {"detail": {"field": "k", "type": "nominal"}, "order": {"field": "a", "type": "quantitative"}}},
            {"data": {"name": "spk"}, "transform": [{"calculate": "0", "as": "x"}, {"calculate": "0", "as": "y"}, {"calculate": "cos(datum.a*PI/180)", "as": "x2"}, {"calculate": "sin(datum.a*PI/180)", "as": "y2"}], "mark": {"type": "rule", "color": "#dadada", "strokeWidth": 1}, "encoding": {"x2": {"field": "x2"}, "y2": {"field": "y2"}}},
            {"data": {"name": "m"}, "transform": [{"filter": "datum.p == '3R'"}, {"calculate": "datum.v/60*cos(datum.a*PI/180)", "as": "x"}, {"calculate": "datum.v/60*sin(datum.a*PI/180)", "as": "y"}],
             "mark": {"type": "line", "strokeWidth": 2.7},
             "encoding": {
               "color": {"field": "s", "type": "nominal", "scale": {"domain": ["f1/f7", "f2/f8", "f3/f9", "f4/f10", "f5/f11", "f6/f12"], "range": ["#c62b2b", "#3ccf3c", "#1c1c66", "#a654d6", "#c8e35a", "#3ad9e6"]},
                 "legend": {"orient": "none", "legendX": -40, "legendY": 122, "title": null, "symbolType": "M0.583,0H6.5", "symbolSize": 144, "symbolStrokeWidth": 2.4, "labelOffset": 33.5, "labelFontSize": 11, "labelColor": "#262626", "labelFont": "Liberation Sans", "rowPadding": 10, "padding": 6, "strokeColor": "#555555", "fillColor": "white", "labelExpr": "datum.label + '\u00a0\u00a0\u00a0\u00a0'"}},
               "strokeDash": {"field": "s", "type": "nominal", "scale": {"domain": ["f1/f7", "f2/f8", "f3/f9", "f4/f10", "f5/f11", "f6/f12"], "range": [[9, 5], [1, 0], [2.5, 2.5], [8, 3, 2, 3], [9, 6], [1, 0]]}},
               "order": {"field": "a", "type": "quantitative"}
             }},
            {"data": {"name": "spk"}, "transform": [{"calculate": "1.1*cos(datum.a*PI/180)", "as": "x"}, {"calculate": "1.1*sin(datum.a*PI/180)", "as": "y"}], "mark": {"type": "text", "fontSize": 12, "color": "#262626"}, "encoding": {"text": {"field": "a", "type": "nominal"}}},
            {"data": {"values": [{"v": 20}, {"v": 40}, {"v": 60}]}, "transform": [{"calculate": "datum.v/60*cos(80*PI/180)", "as": "x"}, {"calculate": "datum.v/60*sin(80*PI/180)", "as": "y"}], "mark": {"type": "text", "fontSize": 12, "color": "#262626", "dx": 8, "dy": -14}, "encoding": {"text": {"field": "v", "type": "nominal"}}},
            {"data": {"values": [{"t": "f7-f12"}]}, "transform": [{"calculate": "-0.386", "as": "x"}, {"calculate": "1.0636", "as": "y"}], "mark": {"type": "text", "fontSize": 14, "fontWeight": "bold", "color": "#000000"}, "encoding": {"text": {"field": "t", "type": "nominal"}}},
            {"data": {"values": [{"t": ["Směrová charakteristika tónu a", "b řada, nástroj Lídl 282, nátrubek V. Bach 10, odraz"]}]}, "transform": [{"calculate": "-2.013", "as": "x"}, {"calculate": "1.1118", "as": "y"}], "mark": {"type": "text", "align": "left", "baseline": "middle", "font": "Liberation Serif", "fontSize": 14, "fontWeight": "bold", "lineHeight": 14.5, "color": "#000000"}, "encoding": {"text": {"field": "t"}}}
          ]
        }
      ]
    }
  ]
}
